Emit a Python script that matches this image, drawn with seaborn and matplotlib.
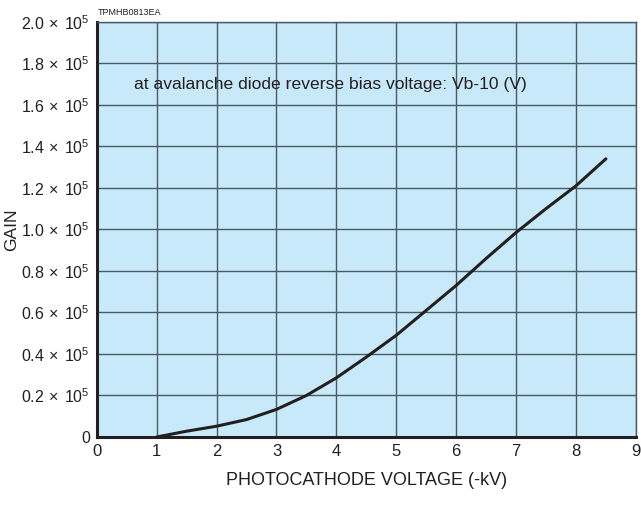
import matplotlib
matplotlib.use("Agg")
import matplotlib.pyplot as plt
import pandas as pd
import seaborn as sns

# photocathode voltage (-kV) and gain
voltage = [1.0, 1.5, 2.0, 2.5, 3.0, 3.5, 4.0, 4.5, 5.0, 5.5, 6.0, 6.5, 7.0, 7.5, 8.0, 8.5]
gain = [0, 2800, 5200, 8400, 13300, 20000, 28500, 38500, 49000, 61000, 73000, 86000,
        98500, 110000, 121000, 134000]

y_ticks = [0, 20000, 40000, 60000, 80000, 100000, 120000, 140000, 160000, 180000, 200000]
y_labels = ["0"] + [r"$\mathregular{%.1f\,\times\,10^{5}}$" % (v / 1e5) for v in y_ticks[1:]]
x_ticks = list(range(10))

df = pd.DataFrame({"voltage": voltage, "gain": gain})

sns.set_style("white")
plt.rcParams["font.family"] = ["Liberation Sans", "DejaVu Sans"]
plt.rcParams["mathtext.fontset"] = "custom"
plt.rcParams["mathtext.rm"] = "Liberation Sans"

fig = plt.figure(figsize=(6.41, 5.19), dpi=100)
ax = fig.add_axes([0.151, 0.158, 0.841, 0.800])
ax.set_facecolor("#c8e9f9")

sns.lineplot(data=df, x="voltage", y="gain", ax=ax, color="#231f20", linewidth=2.2)

ax.set_xlim(0, 9)
ax.set_ylim(0, 200000)
ax.set_xticks(x_ticks)
ax.set_xticklabels([str(t) for t in x_ticks], fontsize=12)
ax.set_yticks(y_ticks)
ax.set_yticklabels(y_labels, fontsize=11.5)
ax.grid(True, color="#4a5a63", linewidth=1.0)
ax.set_axisbelow(True)
ax.tick_params(axis="x", length=0, pad=5, colors="#231f20")
ax.tick_params(axis="y", length=0, pad=5, colors="#231f20")

for side in ["left", "bottom"]:
    ax.spines[side].set_color("#231f20")
    ax.spines[side].set_linewidth(2.2)
for side in ["top", "right"]:
    ax.spines[side].set_color("#4a5a63")
    ax.spines[side].set_linewidth(1.0)

ax.set_xlabel("PHOTOCATHODE VOLTAGE (-kV)", fontsize=13, color="#231f20")
ax.set_ylabel("GAIN", fontsize=12.5, color="#231f20")
ax.xaxis.set_label_coords(0.5, -0.104)
ax.yaxis.set_label_coords(-0.158, 0.5)
ax.xaxis.label.set_va("center")
ax.yaxis.label.set_va("center")

ax.text(0.62, 170000, "at avalanche diode reverse bias voltage: Vb-10 (V)",
        fontsize=12.6, va="center", ha="left", color="#231f20")
fig.text(0.152, 0.968, "TPMHB0813EA", fontsize=6.5, ha="left", va="bottom", color="#231f20")

fig.savefig("out.png", dpi=100)
